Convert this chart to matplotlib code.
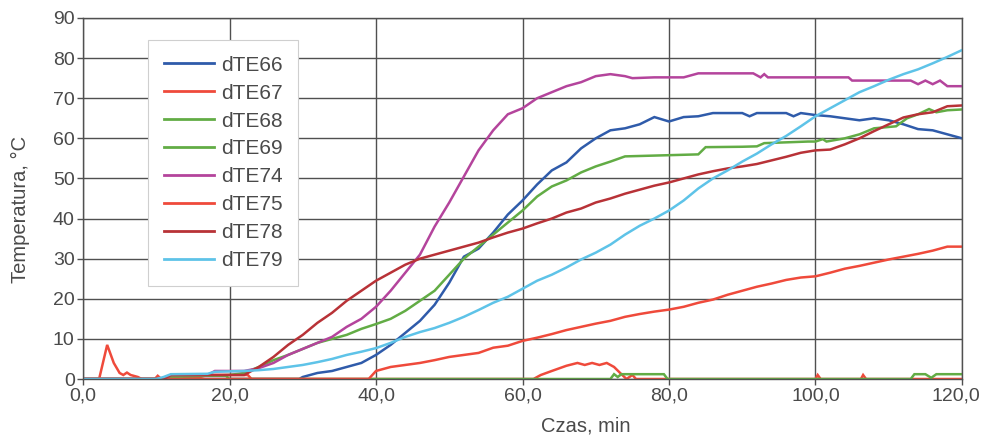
import matplotlib
matplotlib.use("Agg")
import matplotlib.pyplot as plt
from matplotlib.transforms import ScaledTranslation

plt.rcParams['font.family'] = ['Liberation Sans', 'DejaVu Sans']

# ---- data ----
t66 = [0, 29.5, 30, 32, 34, 36, 38, 40, 42, 44, 46, 48, 50, 52, 54, 56, 58, 60, 62, 64, 66, 68, 70, 72, 74, 76, 78, 80,
       82, 84, 86, 88, 90, 91, 92, 94, 96, 97, 98, 100, 102, 104, 106, 108, 110, 112, 114, 116, 118, 120]
v66 = [0, 0, 0.5, 1.5, 2, 3, 4, 6, 8.5, 11.5, 14.5, 18.5, 24, 30.5, 32.5, 36.5, 41, 44.5, 48.5, 52, 54, 57.5, 60, 62,
       62.5, 63.5, 65.3, 64.2, 65.3, 65.5, 66.3, 66.3, 66.3, 65.5, 66.3, 66.3, 66.3, 65.5, 66.3, 65.8, 65.5, 65, 64.5,
       65, 64.5, 63.5, 62.3, 62, 61, 60]

t67 = [0, 2.2, 3.3, 4.2, 5, 5.5, 6, 6.5, 7.5, 8, 9.8, 10.2, 10.7, 11.5, 12, 14, 16, 17, 20, 22.5, 23, 61.5, 62.5, 64,
       66, 67.5, 68.5, 69.5, 70.5, 71.5, 72.5, 73.5, 74.2, 75, 75.5, 100, 100.3, 100.7, 106.2, 106.5, 106.9, 120]
v67 = [0, 0, 8.5, 4, 1.5, 1, 1.6, 1, 0.5, 0, 0, 0.8, 0, 0.5, 1, 0.5, 0.5, 1, 1, 1, 0, 0, 1, 2, 3.3, 4, 3.5, 4, 3.5,
       4, 3, 1.2, 0, 1, 0, 0, 1, 0, 0, 1, 0, 0]

t68 = [0, 11, 12, 20, 22, 24, 26, 28, 30, 32, 34, 36, 38, 40, 42, 44, 46, 48, 50, 52, 54, 56, 58, 60, 62, 64, 66, 68,
       70, 72, 74, 76, 80, 84, 85, 90, 92, 93, 99, 100, 101, 101.5, 104, 106, 108, 111, 112.5, 114, 115.5, 116.5, 118,
       120]
v68 = [0, 0, 0.5, 1, 1.5, 3, 4.7, 6, 7.5, 9, 10, 11, 12.5, 13.7, 15, 17, 19.5, 22, 26, 30, 33, 36, 39, 42, 45.5, 48,
       49.5, 51.5, 53, 54.2, 55.5, 55.6, 55.8, 56, 57.8, 57.9, 58, 58.8, 59.2, 59.2, 59.8, 59.2, 60, 61, 62.5, 63, 65,
       66, 67.3, 66.5, 67, 67.2]

t69 = [0, 11, 12, 19.5, 20, 72, 72.5, 73, 73.5, 79.3, 79.8, 113, 113.5, 115, 115.8, 116.5, 120]
v69 = [0, 0, 0.8, 0.8, 0, 0, 1.2, 0.5, 1.2, 1.2, 0, 0, 1.2, 1.2, 0.3, 1.2, 1.2]

t74 = [0, 11, 12, 17, 18, 22, 24, 26, 28, 30, 32, 34, 36, 38, 40, 42, 44, 46, 48, 50, 52, 54, 56, 58, 60, 62, 64, 66,
       68, 70, 72, 74, 75, 78, 80, 82, 84, 88, 91.5, 92.5, 93, 93.5, 104.5, 105, 113, 114, 115, 116, 117, 118, 120]
v74 = [0, 0, 1, 1, 2, 2, 2.7, 4, 6, 7.5, 9, 10.5, 13, 15, 18, 22, 26.5, 31, 38, 44, 50.5, 57, 62, 66, 67.5, 70, 71.5,
       73, 74, 75.5, 76, 75.5, 75, 75.2, 75.2, 75.2, 76.2, 76.2, 76.2, 75.2, 76, 75.2, 75.2, 74.4, 74.4, 73.5, 74.4,
       73.5, 74.4, 73, 73]

t75 = [0, 39, 40, 42, 44, 46, 48, 50, 52, 54, 56, 58, 60, 62, 64, 66, 68, 70, 72, 74, 76, 78, 80, 82, 84, 86, 88, 90,
       92, 94, 96, 98, 100, 102, 104, 106, 108, 110, 112, 114, 116, 118, 120]
v75 = [0, 0, 2, 3, 3.5, 4, 4.7, 5.5, 6, 6.5, 7.8, 8.3, 9.5, 10.3, 11.2, 12.2, 13, 13.8, 14.5, 15.5, 16.2, 16.8, 17.3,
       18, 19, 19.8, 21, 22, 23, 23.8, 24.7, 25.3, 25.6, 26.5, 27.5, 28.2, 29, 29.8, 30.5, 31.2, 32, 33, 33]

t78 = [0, 11, 12, 22, 23, 24, 26, 28, 30, 32, 34, 36, 38, 40, 42, 44, 46, 48, 50, 52, 54, 56, 58, 60, 62, 64, 66, 68,
       70, 72, 74, 76, 78, 80, 82, 84, 86, 88, 90, 92, 94, 96, 98, 100, 102, 104, 106, 108, 110, 112, 114, 116, 118,
       120]
v78 = [0, 0, 1, 1, 2, 3, 5.5, 8.5, 11, 14, 16.5, 19.5, 22, 24.5, 26.5, 28.5, 30, 31, 32, 33, 34, 35.3, 36.5, 37.5,
       38.8, 40, 41.5, 42.5, 44, 45, 46.2, 47.2, 48.2, 49, 50, 51, 51.8, 52.5, 53, 53.6, 54.5, 55.4, 56.4, 57, 57.2,
       58.5, 60, 61.8, 63.5, 65.2, 66, 66.5, 68, 68.2]

t79 = [0, 10, 11, 12, 17, 18, 22, 24, 26, 28, 30, 32, 34, 36, 38, 40, 42, 44, 46, 48, 50, 52, 54, 56, 58, 60, 62, 64,
       66, 68, 70, 72, 74, 76, 78, 80, 82, 84, 86, 88, 90, 92, 94, 96, 98, 100, 102, 104, 106, 108, 110, 112, 114, 116,
       118, 120]
v79 = [0, 0, 0.5, 1.2, 1.3, 1.8, 2, 2.2, 2.5, 3, 3.5, 4.2, 5, 6, 6.8, 7.7, 9, 10.5, 11.7, 12.7, 14, 15.5, 17.2, 19,
       20.5, 22.5, 24.5, 26, 27.8, 29.8, 31.5, 33.5, 36, 38.2, 40, 42, 44.5, 47.5, 50, 52, 54.2, 56.2, 58.5, 60.6, 63,
       65.5, 67.5, 69.5, 71.5, 73, 74.6, 76, 77.2, 78.7, 80.3, 82]

labels = ['dTE66', 'dTE67', 'dTE68', 'dTE69', 'dTE74', 'dTE75', 'dTE78', 'dTE79']
colors = ['#2F5BAA', '#EF4A3B', '#62AC45', '#62AC45', '#B4449C', '#EF4A3B', '#B83237', '#5EC3E8']
series = [(t66, v66), (t67, v67), (t68, v68), (t69, v69), (t74, v74), (t75, v75), (t78, v78), (t79, v79)]

xticks = [0, 20, 40, 60, 80, 100, 120]
xticklabels = ['0,0', '20,0', '40,0', '60,0', '80,0', '100,0', '120,0']
yticks = list(range(0, 91, 10))

# ---- figure ----
fig = plt.figure(figsize=(9.82, 4.38), dpi=100)
ax = fig.add_axes([83 / 982, 1 - 379 / 438, (962 - 83) / 982, (379 - 18) / 438])

for (t, v), lab, c in zip(series, labels, colors):
    ax.plot(t, v, color=c, lw=1.8, label=lab, solid_joinstyle='miter')

ax.set_xlim(0, 120)
ax.set_ylim(0, 90)
ax.set_xticks(xticks)
ax.set_xticklabels(xticklabels)
ax.set_yticks(yticks)

gridc = '#505050'
ax.grid(True, color=gridc, lw=1.0)
ax.set_axisbelow(True)
for s in ax.spines.values():
    s.set_color(gridc)
    s.set_linewidth(1.0)

txtc = '#4a4a4a'
ax.tick_params(axis='both', direction='out', length=4, width=1.0, color=gridc,
               labelsize=14, labelcolor=txtc, pad=2)

# keep the last x tick label inside the canvas (it touches the edge in the reference)
last = ax.get_xticklabels()[-1]
last.set_transform(last.get_transform() + ScaledTranslation(-6 / 100, 0, fig.dpi_scale_trans))

ax.set_xlabel('Czas, min', fontsize=14.5, color=txtc)
ax.xaxis.set_label_coords((586 - 83) / 879, -0.105)
ax.set_ylabel('Temperatura, °C', fontsize=14.5, color=txtc)
ax.yaxis.set_label_coords(-0.06, 0.47)

leg = ax.legend(loc='upper left', bbox_to_anchor=((148 - 83) / 879, (379 - 40) / 361),
                fontsize=15, frameon=True, fancybox=False, framealpha=1.0,
                edgecolor='#cfcfcf', labelspacing=0.43, handlelength=2.4,
                handletextpad=0.35, borderpad=0.75, borderaxespad=0)
leg.get_frame().set_linewidth(0.8)
for txt in leg.get_texts():
    txt.set_color(txtc)
for line in leg.get_lines():
    line.set_linewidth(2.0)

fig.savefig('out.png', dpi=100)
